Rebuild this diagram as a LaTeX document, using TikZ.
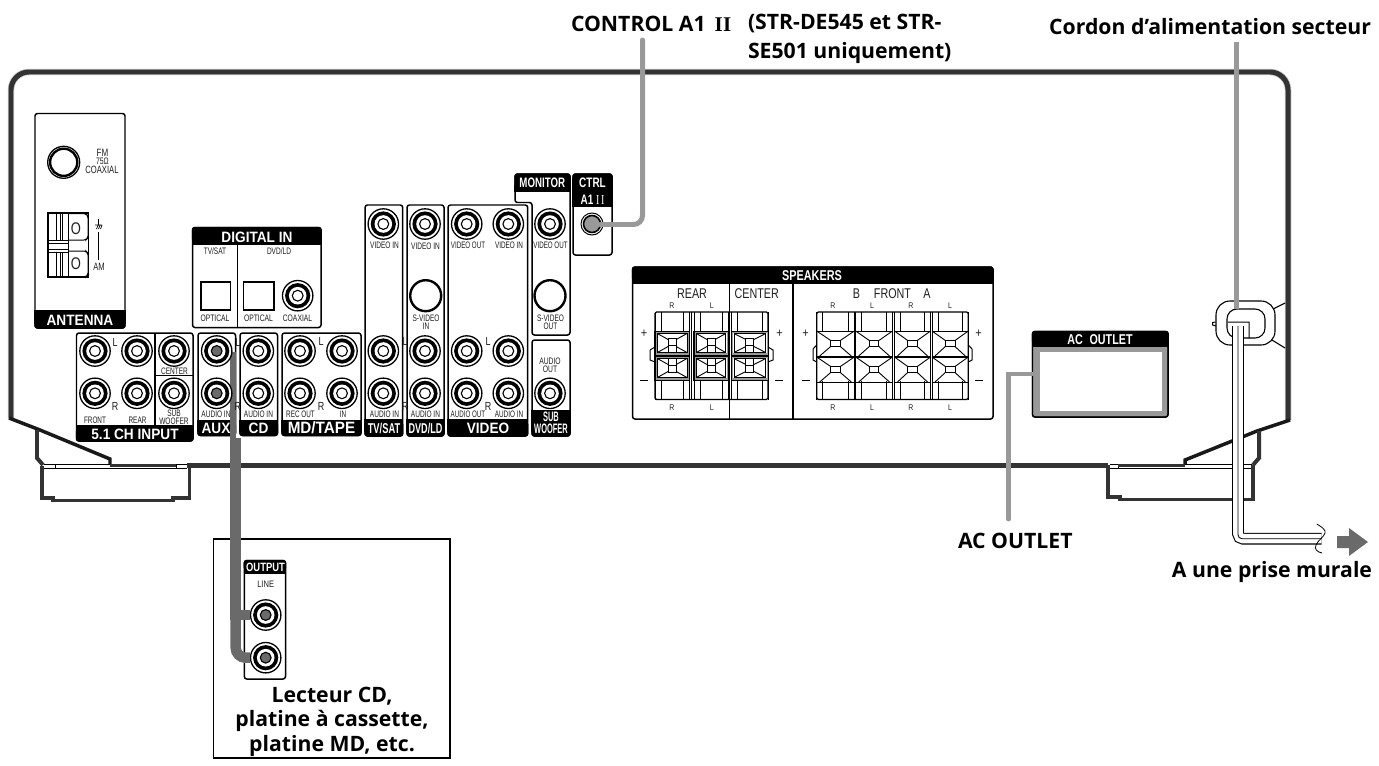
\documentclass[tikz,border=0pt]{standalone}
\usepackage{fontspec}
\usepackage{graphicx}
\setmainfont{Liberation Sans}
\newfontfamily\bigf{Open Sans}
\newfontfamily\serf{Liberation Serif}
\definecolor{chassis}{HTML}{333333}
\definecolor{cableA}{HTML}{6A6A6A}
\definecolor{cableB}{HTML}{999999}
\newcounter{nn}
% small label: [size]{x}{y}{stretch}{text}
\newcommand\lbx[5][8]{\stepcounter{nn}\node[lab,font=\fontsize{#1}{#1}\selectfont] (n\arabic{nn}) at (#2,#3) {\scalebox{#4}[1.18]{#5}};}
\newcommand\wlx[5][13.7]{\stepcounter{nn}\node[lab,text=white,font=\bfseries\fontsize{#1}{#1}\selectfont] (n\arabic{nn}) at (#2,#3) {\scalebox{#4}[1.1]{#5}};}
\newcommand\biglab[4][west]{\stepcounter{nn}\node[bigl,anchor=#1,align=center] (n\arabic{nn}) at (#2,#3) {#4};}
% jack: [centre colour]{x}{y}
\newcommand\jackx[3][white]{
  \draw[line width=1.3,fill=white] (#2,#3) circle (15.2);
  \fill[black] (#2,#3) circle (12.6);
  \fill[white] (#2,#3) circle (8.8);
  \draw[line width=1.1,fill=#1] (#2,#3) circle (5.4);
}
% panel: {x1}{y1}{x2}{y2}{footer y}
\newcommand\panelx[5]{
  \draw[pline,fill=white] (#1,#2) rectangle (#3,#4);
  \fill[rounded corners=3] (#1-.7,#5+3) rectangle (#3+.7,#4+.7);
  \fill (#1-.7,#5) rectangle (#3+.7,#4-4);
}
% header panel
\newcommand\hpanelx[5]{
  \draw[pline,fill=white] (#1,#2) rectangle (#3,#4);
  \fill[rounded corners=3] (#1-.7,#2-.7) rectangle (#3+.7,#5-3);
  \fill (#1-.7,#2+4) rectangle (#3+.7,#5);
}
\newcommand\frontcell[3]{% x1 x2 cy
  \pgfmathsetmacro\cx{(#1+#2)/2}
  \draw[thl] (#1,#3-12.5) rectangle (#2,#3+12.5);
  \draw[thl] (\cx-4.8,#3-3) rectangle (\cx+4.8,#3+3);
  \draw[thl] (#1,#3-12.5) -- (\cx-4.8,#3-3) (#2,#3-12.5) -- (\cx+4.8,#3-3) (#1+3,#3+12.5) -- (\cx-4.8,#3+3) (#2-3,#3+12.5) -- (\cx+4.8,#3+3);
}
\newcommand\rearcell[4]{% x1 x2 cy dir
  \pgfmathsetmacro\cx{(#1+#2)/2}
  \draw[line width=2,draw=cableB] (#1+.5,#3-11.3) rectangle (#2-.5,#3+11.3);
  \draw[line width=.8] (#1-.3,#3-12) rectangle (#2+.3,#3+12);
  \draw[thl] (#1+2.3,#3-9.5) rectangle (#2-2.3,#3+9.5);
  \draw[thl] (\cx-4,#3-#4*4.5) rectangle (\cx+4,#3+#4*2.5);
  \draw[thl] (#1+2.3,#3-9.5) -- (\cx-4,#3-3.5) (#2-2.3,#3-9.5) -- (\cx+4,#3-3.5) (#1+2.3,#3+9.5) -- (\cx-4,#3+3.5) (#2-2.3,#3+9.5) -- (\cx+4,#3+3.5);
  \draw[thl] (\cx-4,#3+#4*2.5) -- (\cx-4,#3+#4*9.5) (\cx+4,#3+#4*2.5) -- (\cx+4,#3+#4*9.5);
}
\newcommand\colstubs[2]{% x1 x2 : top and bottom stubs of a column
  \draw[thl] (#1+6,312) -- (#1+6,331) (#2-6,312) -- (#2-6,331);
  \draw[thl] (#1+6,381) -- (#1+6,399.5) (#2-6,381) -- (#2-6,399.5);
}
\begin{document}
\begin{tikzpicture}[x=1bp,y=-1bp,
  lab/.style={inner sep=0pt,outer sep=0pt,text=black!88,anchor=center},
  bigl/.style={inner sep=0pt,outer sep=0pt,text=black,font=\bigf\bfseries\fontsize{21.3}{24.5}\selectfont},
  pline/.style={line width=1.5,rounded corners=2.5,draw=black},
  thl/.style={line width=.9,draw=black},
  chas/.style={line width=5,draw=chassis,line join=miter},
  chasb/.style={line width=3.5,draw=black!90},
  foot/.style={line width=4,draw=chassis},
  thingrey/.style={line width=5,draw=cableB,rounded corners=9,line cap=round},
  thickgrey/.style={line width=10.5,draw=cableA,rounded corners=10}]
\useasboundingbox (0,0) rectangle (1379,765);
\fill[white] (0,0) rectangle (1379,765);

% ---------- chassis
\draw[rounded corners=18,draw=cableB!60,line width=6.5] (11,418) -- (11,72) -- (1288,72) -- (1288,420);
\draw[chas,rounded corners=18] (11,418) -- (11,72) -- (1288,72) -- (1288,420);
\draw[chasb] (9,418) -- (40,430) -- (110,459) -- (110,464);
\draw[chasb] (1290,420) -- (1257,431) -- (1185,460) -- (1185,464);
\draw[foot] (37,430) -- (37,458) -- (43,465);
\draw[foot] (1259,431) -- (1259,458) -- (1253,465);
\draw[chas] (187,465.5) -- (1108,465.5);
\draw[line width=1] (44,464) -- (187,464) (44,468) -- (187,468) (1110,464) -- (1252,464) (1110,468) -- (1252,468) (55,464) -- (55,468) (176,464) -- (176,468) (1118,464) -- (1118,468);
\draw[chas,line width=3] (110,465.5) -- (176,465.5) (1118,465.5) -- (1185,465.5);
\draw[foot] (42,466) -- (42,498) -- (53,498) -- (53,500.5) -- (173,500.5) -- (173,498) -- (189.5,498) -- (189.5,465);
\draw[foot] (1108,465) -- (1108,497) -- (1120,497) -- (1120,499.5) -- (1253,499.5) -- (1253,465);

% ---------- antenna
\panelx{35}{113.5}{125}{328}{310}
\wlx{80}{320}{1}{ANTENNA}
\draw[line width=1.3] (63.7,162.3) circle (16);
\draw[line width=2.4] (63.7,162.3) circle (13.6);
\lbx[9]{102.5}{153}{.9}{FM}
\lbx[8]{102.5}{161.3}{.85}{75Ω}
\lbx[9]{102}{169.6}{.85}{COAXIAL}
\draw[line width=1.6] (48,213) rectangle (88.5,277);
\draw[line width=1] (68,213) -- (68,277);
\draw[line width=1,rounded corners=2] (68,213.5) -- (86,213.5) -- (88,216) -- (88,238) -- (86,240) -- (68,240);
\draw[line width=1,rounded corners=2] (68,251) -- (86,251) -- (88,253) -- (88,275) -- (86,277) -- (68,277);
\draw[line width=1] (48,240) -- (68,240) (48,243) -- (68,243) (48,249) -- (68,249) (48,252) -- (68,252);
\foreach \xx in {56,60,62.5}{\draw[line width=1] (\xx,214) -- (\xx,240) (\xx,252) -- (\xx,277);}
\stepcounter{nn}\node[lab,font=\fontsize{13}{13}\selectfont] (n\arabic{nn}) at (76,229) {\scalebox{1}[1.3]{O}};
\stepcounter{nn}\node[lab,font=\fontsize{13}{13}\selectfont] (n\arabic{nn}) at (76,263.5) {\scalebox{1}[1.3]{O}};
\draw[line width=.7] (98.5,219) -- (98.5,225) (95,225) -- (102,225) (96.5,229) -- (98,225.5) (98.5,229) -- (100,225.5) (100.5,229) -- (102,225.5);
\draw[line width=1.4] (98.5,232) -- (98.5,260);
\lbx[9]{99}{266.5}{.85}{AM}

% ---------- digital in
\hpanelx{192.5}{227.5}{321}{327.5}{245}
\wlx{257}{237}{1}{DIGITAL IN}
\draw[line width=1] (237.7,245) -- (237.7,327.5);
\lbx{215}{251}{.82}{TV/SAT}
\lbx{279}{251}{.82}{DVD/LD}
\draw[line width=1.9] (200.7,282) rectangle (230.5,310);
\draw[line width=1.9] (243.5,282) rectangle (274,310);
\jackx{297.7}{295.7}
\lbx{215}{318}{.85}{OPTICAL}
\lbx{258.5}{318}{.85}{OPTICAL}
\lbx{297.5}{318}{.85}{COAXIAL}

% ---------- 5.1 CH
\panelx{76.5}{333}{193}{441}{425}
\wlx{135}{434.5}{1}{5.1 CH INPUT}
\draw[line width=1.2] (155,333) -- (155,425) (155,375.7) -- (193,375.7);
\foreach \xx in {95,137,174}{\jackx{\xx}{351}\jackx{\xx}{393.3}}
\lbx[10]{115}{342}{.9}{L}
\lbx[10]{115}{406}{.9}{R}
\lbx{174.5}{371}{.82}{CENTER}
\lbx{174}{413.5}{.82}{SUB}
\lbx{174}{421}{.82}{WOOFER}
\lbx{95}{420}{.8}{FRONT}
\lbx{137.5}{420}{.8}{REAR}

% ---------- AUX / CD / MD
\panelx{198}{333}{235.5}{435.5}{419.5}
\panelx{240}{333}{277.5}{435.5}{419.5}
\panelx{282}{333}{361}{435.5}{419.5}
\coordinate (cabtop) at (233,352);
\coordinate (cabmid) at (233,438);
\coordinate (cablow) at (235.7,438);
\draw[line width=5.8,draw=cableA] (cabtop) -- (cabmid);
\wlx{216}{428}{1}{AUX}
\wlx{258.5}{428}{1}{CD}
\wlx[15]{321.5}{428}{1.02}{MD/TAPE}
\jackx[cableA]{216.7}{351}\jackx[cableA]{216.7}{393.3}
\jackx{258.3}{351}\jackx{258.3}{393.3}
\foreach \xx in {300,342}{\jackx{\xx}{351}\jackx{\xx}{393.3}}
\lbx{216}{414}{.82}{AUDIO IN}
\lbx{258.5}{414}{.82}{AUDIO IN}
\lbx{300.5}{414}{.8}{REC OUT}
\lbx{343}{414}{.8}{IN}
\lbx[10]{321}{341}{.9}{L}
\lbx[10]{321}{406}{.9}{R}
\lbx[10]{237.8}{342}{.9}{L}
\lbx[10]{237.5}{406}{.9}{R}

% ---------- tall panels
\panelx{365}{205}{402.7}{436}{418.5}
\panelx{407}{205}{444}{436}{418.5}
\panelx{448}{205}{527.7}{436}{418.5}
\wlx[13]{384}{428}{.72}{TV/SAT}
\wlx[13]{425.5}{428}{.7}{DVD/LD}
\wlx{488}{428}{1}{VIDEO}
\foreach \xx in {383.3,425,466.7,508.3}{\jackx{\xx}{224}\jackx{\xx}{351}\jackx{\xx}{393.3}}
\lbx{384.5}{245}{.82}{VIDEO IN}
\lbx{425.5}{246}{.82}{VIDEO IN}
\lbx{468}{245}{.78}{VIDEO OUT}
\lbx{509}{245}{.8}{VIDEO IN}
\lbx{384.5}{414}{.82}{AUDIO IN}
\lbx{425.5}{414}{.82}{AUDIO IN}
\lbx{468}{414}{.78}{AUDIO OUT}
\lbx{509}{414}{.8}{AUDIO IN}
\lbx[10]{405}{341}{.9}{L}
\lbx[10]{405}{406}{.9}{R}
\lbx[10]{488}{341}{.9}{L}
\lbx[10]{488}{406}{.9}{R}
\draw[line width=2.4] (425.7,295.7) circle (15.5);
\lbx{426}{318}{.82}{S-VIDEO}
\lbx{426}{326}{.82}{IN}

% ---------- monitor
\draw[pline,fill=white] (515,174) -- (515,202.5) -- (532,202.5) -- (532,335) -- (570,335) -- (570,174) -- cycle;
\fill[rounded corners=3] (514.3,173.3) rectangle (570.7,191.5);
\fill (514.3,185) rectangle (570.7,191.5);
\wlx[12.5]{542.3}{183}{.78}{MONITOR}
\jackx{550}{224}
\lbx{550.5}{245}{.78}{VIDEO OUT}
\draw[line width=2.4] (550,295.7) circle (15.5);
\lbx{550.5}{318}{.82}{S-VIDEO}
\lbx{550.5}{326}{.82}{OUT}

% ---------- sub woofer
\panelx{532}{340}{570}{436}{410}
\lbx{550}{361}{.85}{AUDIO}
\lbx{550}{369}{.85}{OUT}
\jackx{550}{393.3}
\wlx[12.5]{551}{417}{.6}{SUB}
\wlx[12.5]{551}{428.5}{.6}{WOOFER}

% ---------- ctrl
\hpanelx{573}{174}{612}{255}{207}
\wlx[12.5]{592.5}{183}{.8}{CTRL}
\stepcounter{nn}\node[lab,text=white,font=\bfseries\fontsize{12.5}{12.5}\selectfont] (n\arabic{nn}) at (592.5,199.5) {\scalebox{.8}[1.1]{A1 {\serf\mdseries I\,I}}};
\draw[line width=1] (592,224) circle (11);
\draw[line width=1.6,fill=cableB] (592,224) circle (8.5);
\coordinate (ctrljack) at (600,224.5);

% ---------- speakers
\hpanelx{632.5}{267}{993}{419}{284}
\wlx[13]{812}{276}{.84}{SPEAKERS}
\draw[line width=1.5] (729.7,284) -- (729.7,419) (793,284) -- (793,419);
\lbx[12]{692}{293.5}{.9}{REAR}
\lbx[12]{756.7}{293.5}{.9}{CENTER}
\lbx[12]{856.5}{293.5}{.9}{B}
\lbx[12]{892.5}{293.5}{.9}{FRONT}
\lbx[12]{927}{293.5}{.9}{A}
\foreach \xx/\tt in {672/R,711.7/L,833/R,872/L,911/R,950/L}{
  \lbx[7]{\xx}{306}{1}{\tt}
  \lbx[7]{\xx}{407.5}{1}{\tt}
}
\lbx[11]{644}{334}{1}{+}
\lbx[11]{779.5}{334}{1}{+}
\lbx[11]{805.5}{334}{1}{+}
\lbx[11]{978.5}{334}{1}{+}
\draw[line width=.9] (640,380) -- (648,380) (775,380) -- (783,380) (802,380) -- (810,380) (975,380) -- (983,380);
% rear block
\draw[line width=1.2,rounded corners=1.5,fill=white] (655,312) rectangle (768,399.5);
\fill[white] (655.5,354) rectangle (767.5,357);
\foreach \a/\b in {655/689.3,694/728,731.7/768}{
  \colstubs{\a}{\b}
  \rearcell{\a}{\b}{343}{1}
  \rearcell{\a}{\b}{368}{-1}
  \draw[thl] (\a,312) -- (\a,399.5) (\b,312) -- (\b,399.5);
}
\draw[line width=1] (650,350) -- (655,347) (650,350) -- (650,360) -- (655,362) (768,347) -- (773,350) -- (773,360) -- (768,362);
\draw[line width=1] (691.7,312) -- (691.7,399.5) (729.8,312) -- (729.8,399.5);
% front block
\draw[line width=1.2,rounded corners=1.5,fill=white] (816.7,312) rectangle (968.3,399.5);
\foreach \a/\b in {816.7/854.3,855.7/892.5,894.5/930.5,932/968.3}{
  \colstubs{\a}{\b}
  \frontcell{\a}{\b}{343.5}
  \frontcell{\a}{\b}{369.5}
  \draw[thl] (\a,312) -- (\a,399.5) (\b,312) -- (\b,399.5);
}
\draw[line width=1] (816.7,345) -- (813,349) -- (813,360) -- (816.7,362) (968.3,345) -- (972,349) -- (972,360) -- (968.3,362);

% ---------- AC outlet
\hpanelx{1032.5}{331.5}{1168}{417}{347}
\fill[cableB] (1033.3,347) rectangle (1167.2,416.2);
\fill[white] (1040,352) rectangle (1162,411);
\draw[line width=1.4,rounded corners=2.5] (1032.5,331.5) rectangle (1168,417);
\wlx[13]{1100}{340}{.83}{AC\hspace{8pt}OUTLET}

% ---------- cord clamp
\draw[line width=1.1] (1273,309) -- (1285,303) (1272,340) -- (1285,348);
\coordinate (clamptop) at (1236,309);
\draw[line width=1.1,rounded corners=14,fill=white] (1216,301) rectangle (1275,345);
\draw[line width=1.1,rounded corners=10] (1227,309) rectangle (1265,338);
\draw[line width=1] (1215.5,322) -- (1212.5,322.5) -- (1212.5,325) -- (1216,326) (1228,322) -- (1249,322) -- (1249,338);

% ---------- cord
\coordinate (cordtop) at (1238,326);
\coordinate (cordbend) at (1238,538.7);
\coordinate (cordend) at (1321.5,538.7);
\draw[line width=11.8,rounded corners=5] (cordtop) -- (cordbend) -- (cordend);
\draw[line width=9.6,white,rounded corners=5] (cordtop) -- (cordbend) -- (cordend);
\draw[line width=.9,rounded corners=4] (cordtop) -- (cordbend) -- (cordend);
\draw[line width=.8] (1316.7,524) .. controls (1322,527) and (1326,530) .. (1325,533) .. controls (1324,537) and (1318,540) .. (1316,545) .. controls (1314,549) and (1317,552) .. (1322,553);
\fill[cableA] (1337,536) -- (1349,536) -- (1349,528) -- (1368,542) -- (1349,556) -- (1349,548) -- (1337,548) -- cycle;

% ---------- box with output panel
\draw[line width=1.4] (213.5,539) rectangle (450,758);
\hpanelx{244.3}{560.5}{285.5}{679}{573.5}
\wlx[11]{265.5}{567.5}{.86}{OUTPUT}
\lbx{265.7}{584}{.95}{LINE}
\jackx[cableA]{265.7}{615}
\jackx[cableA]{265.7}{657.7}
\coordinate (outA) at (265.7,615);
\coordinate (outB) at (265.7,657.7);
\coordinate (cabbend) at (235.7,657.7);

% ---------- connectors
\draw[line width=10.5,draw=cableA] (cablow) -- (235.7,615) -- (250,615);
\draw[thickgrey] (235.7,600) -- (cabbend) -- (250,657.7);
\coordinate (ctrlup) at (642.5,224.5);
\coordinate (ctrlend) at (642.5,40);
\draw[thingrey] (ctrlend) -- (ctrlup) -- (ctrljack);
\coordinate (cordlab) at (1236,42);
\draw[thingrey,line cap=butt] (cordlab) -- (clamptop);
\coordinate (acbox) at (1032,374);
\coordinate (acbend) at (1008.5,374);
\coordinate (aclab) at (1008.5,519);
\draw[thingrey,rounded corners=0] (acbox) -- (acbend) -- (aclab);

% ---------- big labels
\stepcounter{nn}\node[bigl,anchor=west] (n\arabic{nn}) at (571,23.5) {CONTROL A1\kern9pt{\serf\bfseries\fontsize{21}{21}\selectfont I\kern.3pt I}};
\biglab{748}{23.5}{(STR-DE545 et STR-}
\biglab{748}{53}{SE501 uniquement)}
\biglab[east]{1371}{27}{Cordon d’alimentation secteur}
\biglab{958}{541}{AC OUTLET}
\biglab[east]{1372}{572}{A une prise murale}
\biglab[north]{332}{687}{Lecteur CD,\\platine à cassette,\\platine MD, etc.}
\end{tikzpicture}
\end{document}
